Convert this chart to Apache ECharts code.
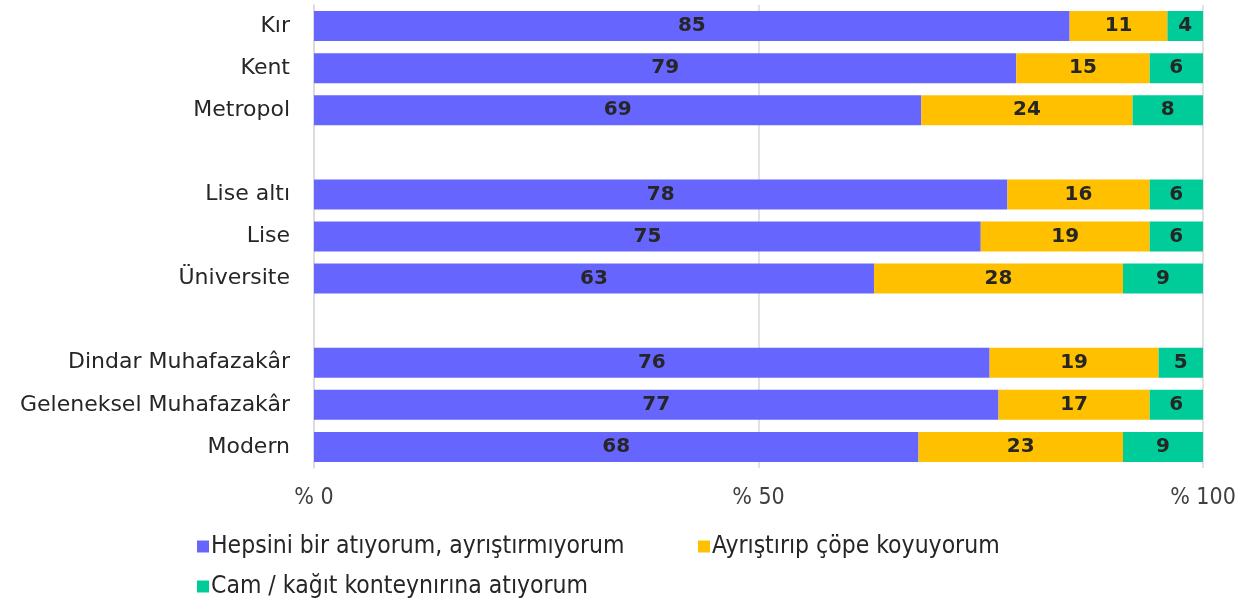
<!DOCTYPE html>
<html><head><meta charset="utf-8">
<script src="https://cdn.jsdelivr.net/npm/echarts@6/dist/echarts.min.js"></script>
<style>html,body{margin:0;padding:0;background:#fff}#c{width:1256px;height:599px}</style>
</head><body><div id="c"></div>
<script>
const categories = ['Kır','Kent','Metropol','','Lise altı','Lise','Üniversite','','Dindar Muhafazakâr','Geleneksel Muhafazakâr','Modern'];
const seriesNames = ['Hepsini bir atıyorum, ayrıştırmıyorum','Ayrıştırıp çöpe koyuyorum','Cam / kağıt konteynırına atıyorum'];
const hepsini = [85,79,69,null,78,75,63,null,76,77,68];
const ayristirip = [11,15,24,null,16,19,28,null,19,17,23];
const cam = [4,6,8,null,6,6,9,null,5,6,9];
const xTicks = ['% 0','% 50','% 100'];
const colors = ['#6666FF','#FFC000','#00CC99'];

const raw = [hepsini, ayristirip, cam];
const totals = categories.map((c,i)=> raw.reduce((s,a)=> s + (a[i]||0), 0));
const font = '"DejaVu Sans", sans-serif';
const narrow = '"Liberation Sans Narrow", "DejaVu Sans Condensed", "Roboto", sans-serif';

const series = raw.map((arr, k) => ({
  name: seriesNames[k],
  type: 'bar',
  stack: 'all',
  barWidth: 30,
  itemStyle: { color: colors[k] },
  label: {
    show: true, position: 'inside',
    color: '#262626', fontWeight: 900, fontSize: 20, fontFamily: '"DejaVu Sans", sans-serif',
    formatter: p => raw[k][p.dataIndex]
  },
  data: arr.map((v,i) => v == null ? '-' : v / totals[i] * 100)
}));

const chart = echarts.init(document.getElementById('c'), null, {renderer:'canvas'});
chart.setOption({
  animation: false,
  grid: { left: 314, right: 53, top: 5, bottom: 131, containLabel: false },
  xAxis: {
    type: 'value', min: 0, max: 100, interval: 50,
    axisLine: { show: false }, axisTick: { show: false },
    splitLine: { show: true, lineStyle: { color: '#D9D9D9', width: 1.5 } },
    axisLabel: { margin: 19, fontSize: 23, color: '#404040', fontFamily: narrow,
      formatter: v => xTicks[v/50] }
  },
  yAxis: {
    type: 'category', data: categories, inverse: true,
    axisLine: { show: true, lineStyle: { color: '#D9D9D9', width: 1.5 } },
    axisTick: { show: false },
    axisLabel: { margin: 24, fontSize: 22, color: '#262626', fontFamily: font }
  },
  legend: [
    { data: [seriesNames[0]], left: 192, top: 529 },
    { data: [seriesNames[1]], left: 693, top: 529 },
    { data: [seriesNames[2]], left: 192, top: 569 }
  ].map(l => Object.assign(l, {
    icon: 'rect', itemWidth: 12, itemHeight: 12, itemGap: 4,
    textStyle: { fontSize: 24.5, color: '#262626', fontFamily: narrow, padding: [0,0,0,-3] }
  })),
  series
});
</script></body></html>
